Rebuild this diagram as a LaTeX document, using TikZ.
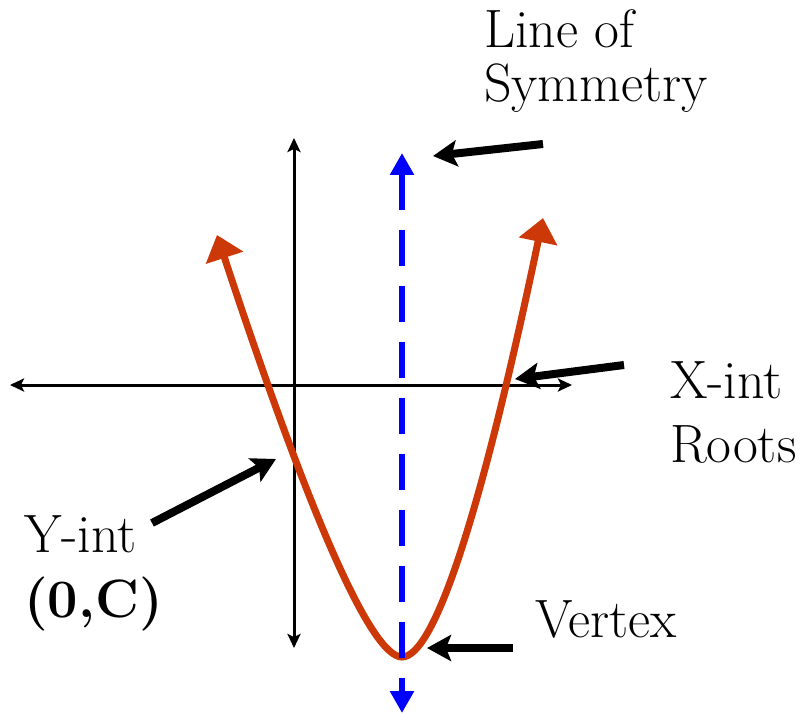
\documentclass[tikz,border=0pt]{standalone}
\usepackage{fontspec}
\usepackage{xcolor}
\usepackage{tikz}
\usetikzlibrary{arrows.meta}
\definecolor{parabred}{RGB}{204,56,8}
\tikzset{
  axis/.style={line width=3pt, {Stealth[length=14pt,width=13pt,inset=3pt]}-{Stealth[length=14pt,width=13pt,inset=3pt]}},
  curve/.style={line width=7pt, parabred, {Triangle[length=24pt,width=38pt]}-{Triangle[length=24pt,width=38pt]}},
  symline/.style={line width=6.5pt, blue, dash pattern=on 36pt off 20pt, {Triangle[length=22pt,width=23pt]}-{Triangle[length=22pt,width=23pt]}},
  pointer/.style={line width=8pt, -{Stealth[length=24pt,width=26pt,inset=5pt]}},
  lbl/.style={inner sep=0pt, anchor=base west, font=\fontsize{54}{57}\selectfont},
}

\begin{document}
\begin{tikzpicture}[x=1pt,y=-1pt]
  \useasboundingbox (0,0) rectangle (806,714);
  % axes
  \coordinate (xl) at (10,385);
  \coordinate (xr) at (572,385);
  \coordinate (yt) at (294,138);
  \coordinate (yb) at (294,648);
  \draw[axis] (xl) -- (xr);
  \draw[axis] (yt) -- (yb);
  % parabola
  \coordinate (lt) at (217,235);
  \coordinate (vtx) at (402,657);
  \coordinate (rt) at (543,218);
  \draw[curve] (lt) .. controls (309.7,516.3) and (371.3,657) .. (vtx)
    .. controls (434.7,657) and (481.7,510.7) .. (rt);
  % line of symmetry
  \coordinate (st) at (402,153);
  \coordinate (sb) at (402,713);
  \draw[symline] (st) -- (sb);
  % labels
  \node[lbl] (los1) at (484,48) {Line of};
  \node[lbl] (los2) at (484,102) {Symmetry};
  \node[lbl] (xint) at (670,398) {X-int};
  \node[lbl] (roots) at (670,462) {Roots};
  \node[lbl] (yint) at (24,552) {Y-int};
  \node[lbl] (yc) at (24,617) {\bfseries (0,C)};
  \node[lbl] (vert) at (535,637) {Vertex};
  % pointers
  \coordinate (losT) at (543,144);
  \coordinate (losH) at (433,156);
  \coordinate (xintT) at (624,365);
  \coordinate (xintH) at (515,379);
  \coordinate (yintT) at (152,523);
  \coordinate (yintH) at (276,459);
  \coordinate (vertT) at (513,648);
  \coordinate (vertH) at (427,648);
  \draw[pointer] (losT) -- (losH);
  \draw[pointer] (xintT) -- (xintH);
  \draw[pointer] (yintT) -- (yintH);
  \draw[pointer] (vertT) -- (vertH);
\end{tikzpicture}
\end{document}
